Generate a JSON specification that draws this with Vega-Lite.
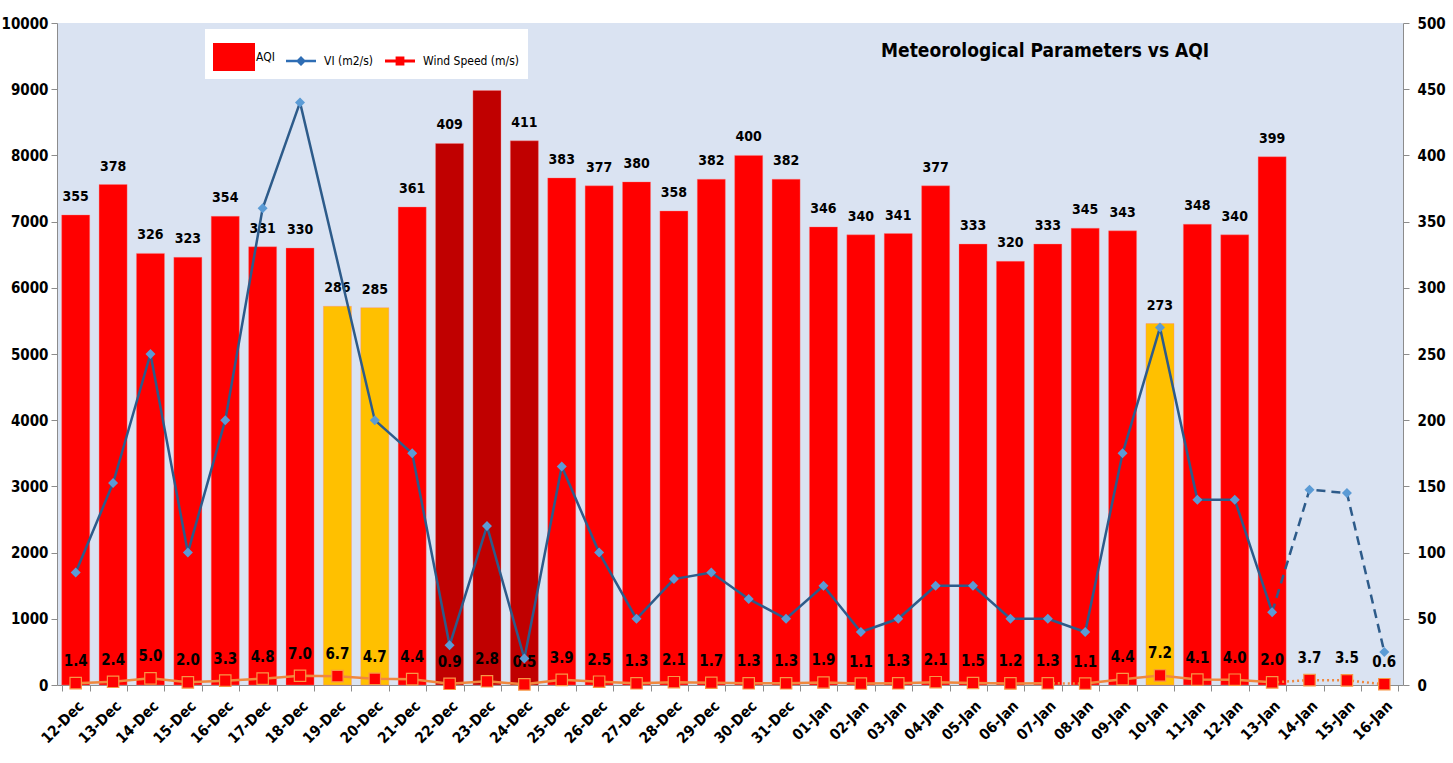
{
  "$schema": "https://vega.github.io/schema/vega-lite/v6.json",
  "width": 1346,
  "height": 662,
  "autosize": {"type": "none"},
  "padding": {"left": 57, "top": 23, "right": 50, "bottom": 78},
  "background": "white",
  "config": {
    "view": {"fill": "#DAE3F2", "stroke": null},
    "font": "'DejaVu Sans Condensed', sans-serif",
    "axis": {"grid": false, "domainColor": "#8C8C8C", "tickColor": "#8C8C8C", "labelColor": "black", "labelFontWeight": "bold", "labelFont": "'DejaVu Sans Condensed', sans-serif"}
  },
  "title": {
    "text": "Meteorological Parameters vs AQI",
    "anchor": "start",
    "orient": "top",
    "offset": 0,
    "dx": 880,
    "dy": 64,
    "baseline": "bottom",
    "font": "'DejaVu Sans Condensed', sans-serif",
    "fontSize": 19,
    "fontWeight": "bold",
    "color": "black"
  },
  "data": {
    "values": [
      {"date": "12-Dec", "aqi": 355, "vi": 1700, "ws": 1.4, "category": "Very Poor"},
      {"date": "13-Dec", "aqi": 378, "vi": 3050, "ws": 2.4, "category": "Very Poor"},
      {"date": "14-Dec", "aqi": 326, "vi": 5000, "ws": 5.0, "category": "Very Poor"},
      {"date": "15-Dec", "aqi": 323, "vi": 2000, "ws": 2.0, "category": "Very Poor"},
      {"date": "16-Dec", "aqi": 354, "vi": 4000, "ws": 3.3, "category": "Very Poor"},
      {"date": "17-Dec", "aqi": 331, "vi": 7200, "ws": 4.8, "category": "Very Poor"},
      {"date": "18-Dec", "aqi": 330, "vi": 8800, "ws": 7.0, "category": "Very Poor"},
      {"date": "19-Dec", "aqi": 286, "vi": null, "ws": 6.7, "category": "Poor"},
      {"date": "20-Dec", "aqi": 285, "vi": 4000, "ws": 4.7, "category": "Poor"},
      {"date": "21-Dec", "aqi": 361, "vi": 3500, "ws": 4.4, "category": "Very Poor"},
      {"date": "22-Dec", "aqi": 409, "vi": 600, "ws": 0.9, "category": "Severe"},
      {"date": "23-Dec", "aqi": 449, "vi": 2400, "ws": 2.8, "category": "Severe"},
      {"date": "24-Dec", "aqi": 411, "vi": 400, "ws": 0.5, "category": "Severe"},
      {"date": "25-Dec", "aqi": 383, "vi": 3300, "ws": 3.9, "category": "Very Poor"},
      {"date": "26-Dec", "aqi": 377, "vi": 2000, "ws": 2.5, "category": "Very Poor"},
      {"date": "27-Dec", "aqi": 380, "vi": 1000, "ws": 1.3, "category": "Very Poor"},
      {"date": "28-Dec", "aqi": 358, "vi": 1600, "ws": 2.1, "category": "Very Poor"},
      {"date": "29-Dec", "aqi": 382, "vi": 1700, "ws": 1.7, "category": "Very Poor"},
      {"date": "30-Dec", "aqi": 400, "vi": 1300, "ws": 1.3, "category": "Very Poor"},
      {"date": "31-Dec", "aqi": 382, "vi": 1000, "ws": 1.3, "category": "Very Poor"},
      {"date": "01-Jan", "aqi": 346, "vi": 1500, "ws": 1.9, "category": "Very Poor"},
      {"date": "02-Jan", "aqi": 340, "vi": 800, "ws": 1.1, "category": "Very Poor"},
      {"date": "03-Jan", "aqi": 341, "vi": 1000, "ws": 1.3, "category": "Very Poor"},
      {"date": "04-Jan", "aqi": 377, "vi": 1500, "ws": 2.1, "category": "Very Poor"},
      {"date": "05-Jan", "aqi": 333, "vi": 1500, "ws": 1.5, "category": "Very Poor"},
      {"date": "06-Jan", "aqi": 320, "vi": 1000, "ws": 1.2, "category": "Very Poor"},
      {"date": "07-Jan", "aqi": 333, "vi": 1000, "ws": 1.3, "category": "Very Poor"},
      {"date": "08-Jan", "aqi": 345, "vi": 800, "ws": 1.1, "category": "Very Poor"},
      {"date": "09-Jan", "aqi": 343, "vi": 3500, "ws": 4.4, "category": "Very Poor"},
      {"date": "10-Jan", "aqi": 273, "vi": 5400, "ws": 7.2, "category": "Poor"},
      {"date": "11-Jan", "aqi": 348, "vi": 2800, "ws": 4.1, "category": "Very Poor"},
      {"date": "12-Jan", "aqi": 340, "vi": 2800, "ws": 4.0, "category": "Very Poor"},
      {"date": "13-Jan", "aqi": 399, "vi": 1100, "ws": 2.0, "category": "Very Poor"},
      {"date": "14-Jan", "aqi": null, "vi": 2950, "ws": 3.7, "category": null},
      {"date": "15-Jan", "aqi": null, "vi": 2900, "ws": 3.5, "category": null},
      {"date": "16-Jan", "aqi": null, "vi": 500, "ws": 0.6, "category": null}
    ]
  },
  "transform": [{"window": [{"op": "row_number", "as": "i"}]}],
  "encoding": {
    "x": {
      "field": "date",
      "type": "ordinal",
      "sort": null,
      "scale": {"paddingInner": 0.25, "paddingOuter": 0.125},
      "axis": {"title": null, "labelAngle": -45, "labelFontSize": 15, "tickBand": "extent", "tickSize": 6, "labelPadding": 7}
    }
  },
  "layer": [
    {
      "layer": [
        {
          "transform": [{"filter": "datum.aqi != null"}],
          "mark": {"type": "bar", "stroke": "#FF8080", "strokeWidth": 0.6, "strokeOpacity": 0.6},
          "encoding": {
            "y": {"field": "aqi", "type": "quantitative", "scale": {"domain": [0, 500]},
              "axis": {"orient": "right", "title": null, "values": [0, 50, 100, 150, 200, 250, 300, 350, 400, 450, 500], "labelFontSize": 15, "tickSize": 6, "labelPadding": 8}},
            "fill": {"field": "category", "type": "nominal", "legend": null,
              "scale": {"domain": ["Poor", "Very Poor", "Severe"], "range": ["#FFC000", "#FF0000", "#C00000"]}}
          }
        },
        {
          "transform": [{"filter": "datum.aqi != null"}],
          "mark": {"type": "text", "baseline": "alphabetic", "dy": -14, "fontSize": 14, "fontWeight": "bold", "color": "black"},
          "encoding": {
            "y": {"field": "aqi", "type": "quantitative", "scale": {"domain": [0, 500]},
              "axis": {"orient": "right", "title": null, "values": [0, 50, 100, 150, 200, 250, 300, 350, 400, 450, 500], "labelFontSize": 15, "tickSize": 6, "labelPadding": 8}},
            "text": {"field": "aqi", "type": "quantitative"}
          }
        },
        {
          "transform": [{"filter": "datum.i <= 27"}],
          "mark": {"type": "line", "color": "#F0883E", "strokeWidth": 2.5},
          "encoding": {"y": {"field": "ws", "type": "quantitative", "scale": {"domain": [0, 500]},
            "axis": {"orient": "right", "title": null, "values": [0, 50, 100, 150, 200, 250, 300, 350, 400, 450, 500], "labelFontSize": 15, "tickSize": 6, "labelPadding": 8}}}
        },
        {
          "transform": [{"filter": "datum.i >= 28 && datum.i <= 33"}],
          "mark": {"type": "line", "color": "#F0883E", "strokeWidth": 2.5},
          "encoding": {"y": {"field": "ws", "type": "quantitative", "scale": {"domain": [0, 500]},
            "axis": {"orient": "right", "title": null, "values": [0, 50, 100, 150, 200, 250, 300, 350, 400, 450, 500], "labelFontSize": 15, "tickSize": 6, "labelPadding": 8}}}
        },
        {
          "transform": [{"filter": "datum.i == 27 || datum.i == 28"}],
          "mark": {"type": "line", "color": "#F0883E", "strokeWidth": 2.5, "strokeDash": [2, 3]},
          "encoding": {"y": {"field": "ws", "type": "quantitative", "scale": {"domain": [0, 500]},
            "axis": {"orient": "right", "title": null, "values": [0, 50, 100, 150, 200, 250, 300, 350, 400, 450, 500], "labelFontSize": 15, "tickSize": 6, "labelPadding": 8}}}
        },
        {
          "transform": [{"filter": "datum.i >= 33"}],
          "mark": {"type": "line", "color": "#F0883E", "strokeWidth": 2.5, "strokeDash": [2, 3]},
          "encoding": {"y": {"field": "ws", "type": "quantitative", "scale": {"domain": [0, 500]},
            "axis": {"orient": "right", "title": null, "values": [0, 50, 100, 150, 200, 250, 300, 350, 400, 450, 500], "labelFontSize": 15, "tickSize": 6, "labelPadding": 8}}}
        },
        {
          "mark": {"type": "point", "shape": "square", "filled": true, "size": 130, "color": "#FF0000", "stroke": "#F79646", "strokeWidth": 1.2, "opacity": 1},
          "encoding": {
            "y": {"field": "ws", "type": "quantitative", "scale": {"domain": [0, 500]},
              "axis": {"orient": "right", "title": null, "values": [0, 50, 100, 150, 200, 250, 300, 350, 400, 450, 500], "labelFontSize": 15, "tickSize": 6, "labelPadding": 8}}
          }
        },
        {
          "mark": {"type": "text", "baseline": "middle", "dy": -22, "fontSize": 15, "fontWeight": "bold", "color": "black"},
          "encoding": {
            "y": {"field": "ws", "type": "quantitative", "scale": {"domain": [0, 500]},
              "axis": {"orient": "right", "title": null, "values": [0, 50, 100, 150, 200, 250, 300, 350, 400, 450, 500], "labelFontSize": 15, "tickSize": 6, "labelPadding": 8}},
            "text": {"field": "ws", "type": "quantitative", "format": ".1f"}
          }
        }
      ]
    },
    {
      "layer": [
        {
          "transform": [{"filter": "datum.vi != null && datum.i <= 33"}],
          "mark": {"type": "line", "color": "#2D5B8A", "strokeWidth": 2.5},
          "encoding": {
            "y": {"field": "vi", "type": "quantitative", "scale": {"domain": [0, 10000]},
              "axis": {"orient": "left", "title": null, "format": "d", "values": [0, 1000, 2000, 3000, 4000, 5000, 6000, 7000, 8000, 9000, 10000], "labelFontSize": 15, "tickSize": 6, "labelPadding": 3}}
          }
        },
        {
          "transform": [{"filter": "datum.i >= 33"}],
          "mark": {"type": "line", "color": "#2D5B8A", "strokeWidth": 2.5, "strokeDash": [9, 6]},
          "encoding": {"y": {"field": "vi", "type": "quantitative", "scale": {"domain": [0, 10000]},
            "axis": {"orient": "left", "title": null, "format": "d", "values": [0, 1000, 2000, 3000, 4000, 5000, 6000, 7000, 8000, 9000, 10000], "labelFontSize": 15, "tickSize": 6, "labelPadding": 3}}}
        },
        {
          "transform": [{"filter": "datum.vi != null"}],
          "mark": {"type": "point", "shape": "diamond", "filled": true, "size": 100, "color": "#5B9BD5", "opacity": 1},
          "encoding": {
            "y": {"field": "vi", "type": "quantitative", "scale": {"domain": [0, 10000]},
              "axis": {"orient": "left", "title": null, "format": "d", "values": [0, 1000, 2000, 3000, 4000, 5000, 6000, 7000, 8000, 9000, 10000], "labelFontSize": 15, "tickSize": 6, "labelPadding": 3}}
          }
        },
        {
          "transform": [{"filter": "datum.i == 1"}],
          "mark": {"type": "point", "filled": true, "opacity": 0},
          "encoding": {
            "y": {"field": "vi", "type": "quantitative", "scale": {"domain": [0, 10000]},
              "axis": {"orient": "left", "title": null, "format": "d", "values": [0, 1000, 2000, 3000, 4000, 5000, 6000, 7000, 8000, 9000, 10000], "labelFontSize": 15, "tickSize": 6, "labelPadding": 3}},
            "color": {"datum": "AQI", "type": "nominal",
              "scale": {"domain": ["AQI", "VI (m2/s)", "Wind Speed (m/s)"], "range": ["#FF0000", "#2E6DB4", "#FF0000"]},
              "legend": {
                "title": null,
                "orient": "none",
                "legendX": 148,
                "legendY": 6,
                "direction": "horizontal",
                "fillColor": "white",
                "padding": 8,
                "symbolSize": 1600,
                "symbolOpacity": 1,
                "symbolStrokeWidth": 0,
                "labelFontSize": 12,
                "labelColor": "black",
                "labelBaseline": "middle",
                "labelOffset": 3,
                "columnPadding": 6
              }
            },
            "shape": {"datum": "AQI", "type": "nominal",
              "scale": {"domain": ["AQI", "VI (m2/s)", "Wind Speed (m/s)"], "range": ["M-1,-0.7H1.1V0.7H-1Z", "M-0.75,-0.06H0.75V0.06H-0.75Z M0,-0.25L0.25,0L0,0.25L-0.25,0Z", "M-0.75,-0.07H0.75V0.07H-0.75Z M-0.22,-0.22H0.22V0.22H-0.22Z"]},
              "legend": {
                "title": null,
                "orient": "none",
                "legendX": 148,
                "legendY": 6,
                "direction": "horizontal",
                "fillColor": "white",
                "padding": 8,
                "symbolSize": 1600,
                "symbolOpacity": 1,
                "symbolStrokeWidth": 0,
                "labelFontSize": 12,
                "labelColor": "black",
                "labelBaseline": "middle",
                "labelOffset": 3,
                "columnPadding": 6
              }
            }
          }
        }
      ]
    }
  ],
  "resolve": {"scale": {"y": "independent"}}
}
